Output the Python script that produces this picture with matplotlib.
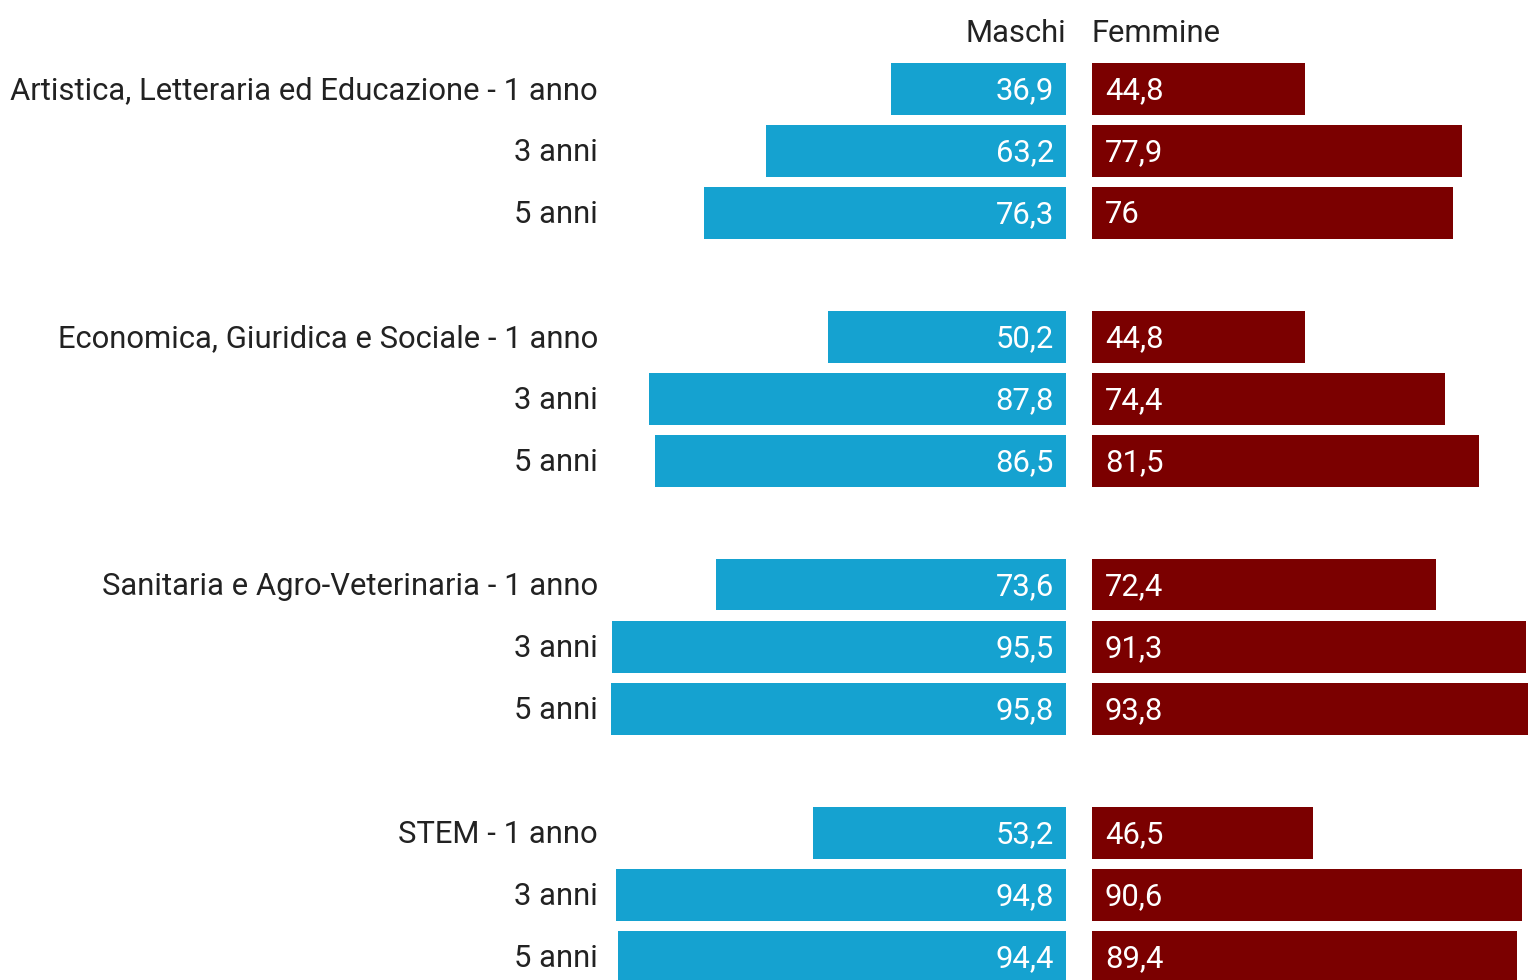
import matplotlib
matplotlib.use("Agg")
import matplotlib.pyplot as plt
from matplotlib.transforms import blended_transform_factory

plt.rcParams['font.family'] = ['Roboto', 'DejaVu Sans']

W, H = 1528, 980
PX = 4.75          # pixels per percentage point
ROW0, ROWH = 88, 62  # centre of first row and row pitch, in pixels

groups = ["Artistica, Letteraria ed Educazione", "Economica, Giuridica e Sociale",
          "Sanitaria e Agro-Veterinaria", "STEM"]
periods = ["1 anno", "3 anni", "5 anni"]
maschi = [[36.9, 63.2, 76.3], [50.2, 87.8, 86.5], [73.6, 95.5, 95.8], [53.2, 94.8, 94.4]]
femmine = [[44.8, 77.9, 76.0], [44.8, 74.4, 81.5], [72.4, 91.3, 93.8], [46.5, 90.6, 89.4]]

blue = "#15a2d0"
red = "#7b0000"
fs = 22.3
dy = 2.5 / ROWH   # text sits a touch lower than the bar centre


def fmt(v):
    s = ("%.1f" % v).replace(".", ",")
    return s[:-2] if s.endswith(",0") else s


fig = plt.figure(figsize=(W / 100, H / 100), dpi=100)

# rows in units: row i centred at ROW0 + ROWH*i pixels from top
ytop = -ROW0 / ROWH
ybot = (H - ROW0) / ROWH

right_m = 1066
left_f = 1092
ax_m = fig.add_axes([0, 0, right_m / W, 1])
ax_m.set_xlim(right_m / PX, 0)
ax_f = fig.add_axes([left_f / W, 0, (W - left_f) / W, 1])
ax_f.set_xlim(0, (W - left_f) / PX)
for ax in (ax_m, ax_f):
    ax.set_ylim(ybot, ytop)
    ax.axis("off")

lab_tr = blended_transform_factory(fig.transFigure, ax_m.transData)

for g, name in enumerate(groups):
    for k, per in enumerate(periods):
        row = g * 4 + k
        m = maschi[g][k]
        f = femmine[g][k]
        ax_m.barh(row + 0.5 / ROWH, m, height=52 / ROWH, color=blue)
        ax_f.barh(row + 0.5 / ROWH, f, height=52 / ROWH, color=red)
        ax_m.text(12 / PX, row + dy, fmt(m), ha="right", va="center",
                  color="white", fontsize=fs)
        ax_f.text(13 / PX, row + dy, fmt(f), ha="left", va="center",
                  color="white", fontsize=fs)
        label = name + " - " + per if k == 0 else per
        ax_m.text(598 / W, row + dy, label, transform=lab_tr, ha="right",
                  va="center", color="#222222", fontsize=fs)

hdr = (31 - ROW0) / ROWH + dy
ax_m.text(0, hdr, "Maschi", ha="right", va="center", color="#222222", fontsize=fs)
ax_f.text(0, hdr, "Femmine", ha="left", va="center", color="#222222", fontsize=fs)

fig.savefig("out.png", dpi=100)
